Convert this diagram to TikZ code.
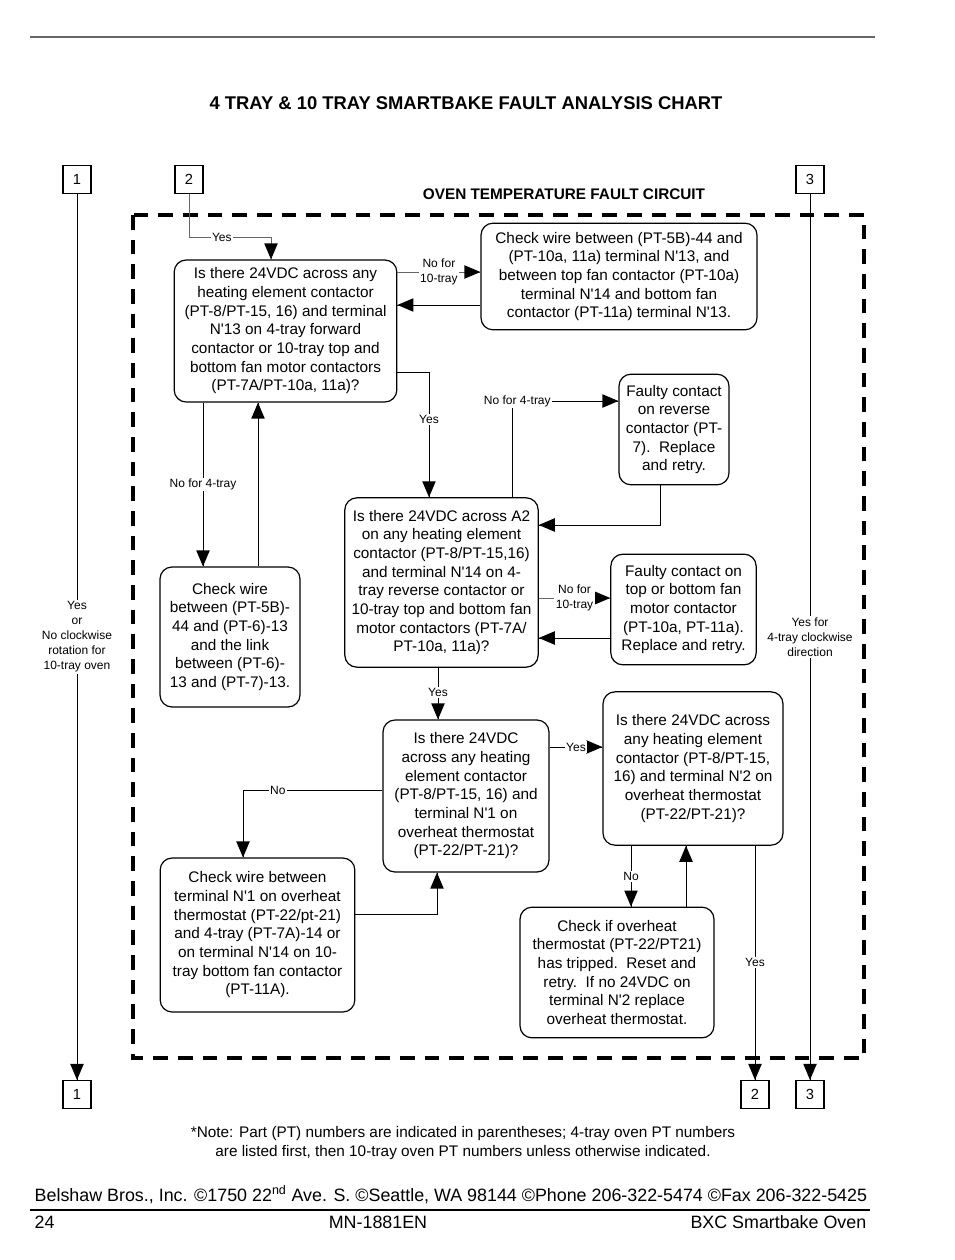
\documentclass[tikz,border=0pt]{standalone}
\usepackage{fontspec}
\setmainfont{Liberation Sans}
\usetikzlibrary{arrows}
\usetikzlibrary{decorations.markings}
\usetikzlibrary{positioning}
\tikzset{->/.style = {decoration={markings,
                                  mark=at position 1 with {\arrow[scale=1.7, black]{triangle 45}}},
                      postaction={decorate}}}
\tikzset{chartbox/.style = {draw, rounded corners=9pt, line width=0.9pt, align=center,
                            font=\fontsize{11.5}{14}\selectfont, inner sep=2pt}}
\tikzset{portbox/.style = {draw, line width=0.9pt, minimum size=21pt, inner sep=0pt,
                           font=\fontsize{11}{13}\selectfont}}
\tikzset{tag/.style = {fill=white, text=black, align=center, inner sep=1pt,
                       font=\fontsize{9}{11.25}\selectfont}}
\tikzset{frameline/.style = {line width=2.4pt, dash pattern=on 11pt off 7.5pt}}
\tikzset{wire/.style = {line width=0.6pt}}
\definecolor{mgray}{rgb}{0.4, 0.4, 0.4}
\newcommand{\ap}{\textquotesingle}

\begin{document}
\begin{tikzpicture}[x=0.75pt, y=-0.75pt]
      \useasboundingbox (0, 0) rectangle (954, 1260);
      \fill [white] (0, 0) rectangle (954, 1260);

      \draw [mgray, line width=0.8pt] (30, 37) -- (875, 37);
      \draw [line width=0.8pt] (30, 1210) -- (870, 1210);

      \node [font=\fontsize{13.8}{16}\selectfont\bfseries] (title) at (466, 103) {4 TRAY \& 10 TRAY SMARTBAKE FAULT ANALYSIS CHART};
      \node [font=\fontsize{11.5}{14}\selectfont\bfseries] (circuit) at (564, 194) {OVEN TEMPERATURE FAULT CIRCUIT};

      \draw [frameline] (133, 215) rectangle (864, 1058);

      % page connectors
      \node [portbox] (oneTop) at (77, 179.5) {1};
      \node [portbox] (twoTop) at (189, 179.5) {2};
      \node [portbox] (threeTop) at (810, 179.5) {3};
      \node [portbox] (oneBot) at (77, 1094.5) {1};
      \node [portbox] (twoBot) at (755, 1094.5) {2};
      \node [portbox] (threeBot) at (810, 1094.5) {3};

      % boxes
      \node [chartbox, minimum width=167pt, minimum height=106.5pt] (fwd) at (285.5, 331)
            {Is there 24VDC across any\\heating element contactor\\(PT-8/PT-15, 16) and terminal\\N\ap13 on 4-tray forward\\contactor or 10-tray top and\\bottom fan motor contactors\\(PT-7A/PT-10a, 11a)?};
      \node [chartbox, minimum width=207pt, minimum height=80pt] (wireTop) at (619, 276.5)
            {Check wire between (PT-5B)-44 and\\(PT-10a, 11a) terminal N\ap13, and\\between top fan contactor (PT-10a)\\terminal N\ap14 and bottom fan\\contactor (PT-11a) terminal N\ap13.};
      \node [chartbox, minimum width=82.5pt, minimum height=83pt] (revFault) at (674, 429.5)
            {Faulty contact\\on reverse\\contactor (PT-\\7).\ \ Replace\\and retry.};
      \node [chartbox, minimum width=145pt, minimum height=127pt] (rev) at (441.5, 582.5)
            {Is there 24VDC across A2\\on any heating element\\contactor (PT-8/PT-15,16)\\and terminal N\ap14 on 4-\\tray reverse contactor or\\10-tray top and bottom fan\\motor contactors (PT-7A/\\PT-10a, 11a)?};
      \node [chartbox, minimum width=109pt, minimum height=83pt] (fanFault) at (683.5, 609.5)
            {Faulty contact on\\top or bottom fan\\motor contactor\\(PT-10a, PT-11a).\\Replace and retry.};
      \node [chartbox, minimum width=105pt, minimum height=105pt] (wireLink) at (230, 637)
            {Check wire\\between (PT-5B)-\\44 and (PT-6)-13\\and the link\\between (PT-6)-\\13 and (PT-7)-13.};
      \node [chartbox, minimum width=124.5pt, minimum height=114pt] (ohOne) at (466, 796)
            {Is there 24VDC\\across any heating\\element contactor\\(PT-8/PT-15, 16) and\\terminal N\ap1 on\\overheat thermostat\\(PT-22/PT-21)?};
      \node [chartbox, minimum width=135pt, minimum height=115pt] (ohTwo) at (693, 768.5)
            {Is there 24VDC across\\any heating element\\contactor (PT-8/PT-15,\\16) and terminal N\ap2 on\\overheat thermostat\\(PT-22/PT-21)?};
      \node [chartbox, minimum width=146pt, minimum height=115.5pt] (wireOh) at (257.5, 935)
            {Check wire between\\terminal N\ap1 on overheat\\thermostat (PT-22/pt-21)\\and 4-tray (PT-7A)-14 or\\on terminal N\ap14 on 10-\\tray bottom fan contactor\\(PT-11A).};
      \node [chartbox, minimum width=145.5pt, minimum height=98pt] (tripped) at (617, 972.5)
            {Check if overheat\\thermostat (PT-22/PT21)\\has tripped.\ \ Reset and\\retry.\ \ If no 24VDC on\\terminal N\ap2 replace\\overheat thermostat.};

      % flow
      \draw [->, mgray, wire] (twoTop.south) |- ([shift={(-14.5, -22)}]fwd.north) node [tag, pos=0.7] {Yes} -- ([shift={(-14.5, 0)}]fwd.north);
      \draw [->, mgray, wire] ([shift={(0, -59)}]fwd.east) -- ([shift={(0, -4.5)}]wireTop.west) node [tag, pos=0.5] {No for\\10-tray};
      \draw [->, wire] ([shift={(0, 28.5)}]wireTop.west) -- ([shift={(0, -26)}]fwd.east);
      \draw [->, wire] ([shift={(0, 41)}]fwd.east) -| ([shift={(-12.5, 0)}]rev.north) node [tag, pos=0.69] {Yes};
      \draw [->, wire] ([shift={(-82.5, 0)}]fwd.south) -- ([shift={(-27, 0)}]wireLink.north) node [tag, pos=0.5] {No for 4-tray};
      \draw [->, wire] ([shift={(28, 0)}]wireLink.north) -- ([shift={(-27.5, 0)}]fwd.south);
      \draw [->, wire] ([shift={(70.5, 0)}]rev.north) |- ([shift={(0, -28.5)}]revFault.west) node [tag, pos=0.5, xshift=4pt] {No for 4-tray};
      \draw [->, wire] ([shift={(-14, 0)}]revFault.south) |- ([shift={(0, -57.5)}]rev.east);
      \draw [->, mgray, wire] ([shift={(0, 15.5)}]rev.east) -- ([shift={(0, -11.5)}]fanFault.west) node [tag, pos=0.5] {No for\\10-tray};
      \draw [->, wire] ([shift={(0, 28.5)}]fanFault.west) -- ([shift={(0, 55.5)}]rev.east);
      \draw [->, wire] ([shift={(-3.5, 0)}]rev.south) -- ([shift={(-28, 0)}]ohOne.north) node [tag, pos=0.47] {Yes};
      \draw [->, wire] ([shift={(0, -6)}]ohOne.west) -| ([shift={(-14.5, 0)}]wireOh.north) node [tag, pos=0.375] {No};
      \draw [->, wire] ([shift={(0, -21)}]wireOh.east) -| ([shift={(-29, 0)}]ohOne.south);
      \draw [->, wire] ([shift={(0, -49)}]ohOne.east) -- ([shift={(0, -21.5)}]ohTwo.west) node [tag, pos=0.5] {Yes};
      \draw [->, wire] ([shift={(-62, 0)}]ohTwo.south) -- ([shift={(14, 0)}]tripped.north) node [tag, pos=0.5] {No};
      \draw [->, wire] ([shift={(69, 0)}]tripped.north) -- ([shift={(-7, 0)}]ohTwo.south);
      \draw [->, wire] ([shift={(62, 0)}]ohTwo.south) -- (twoBot.north) node [tag, pos=0.5] {Yes};
      \draw [->, wire] (oneTop.south) -- (oneBot.north) node [tag, pos=0.5] {Yes\\or\\No clockwise\\rotation for\\10-tray oven};
      \draw [->, wire] (threeTop.south) -- (threeBot.north) node [tag, pos=0.5] {Yes for\\4-tray clockwise\\direction};

      \node [align=center, font=\fontsize{11.5}{14.25}\selectfont] (note) at (463, 1143.5)
            {*Note: Part (PT) numbers are indicated in parentheses; 4-tray oven PT numbers\\are listed first, then 10-tray oven PT numbers unless otherwise indicated.};
      \node [anchor=west, font=\fontsize{13.4}{16}\selectfont] (address) at (30, 1195)
            {Belshaw Bros., Inc. ©1750 22\textsuperscript{nd} Ave. S. ©Seattle, WA 98144 ©Phone 206-322-5474 ©Fax 206-322-5425};
      \node [anchor=west, font=\fontsize{13.4}{16}\selectfont] (page) at (30, 1222) {24};
      \node [font=\fontsize{13.4}{16}\selectfont] (manual) at (378, 1222) {MN-1881EN};
      \node [anchor=east, font=\fontsize{13.4}{16}\selectfont] (oven) at (871, 1222) {BXC Smartbake Oven};
    \end{tikzpicture}
\end{document}
